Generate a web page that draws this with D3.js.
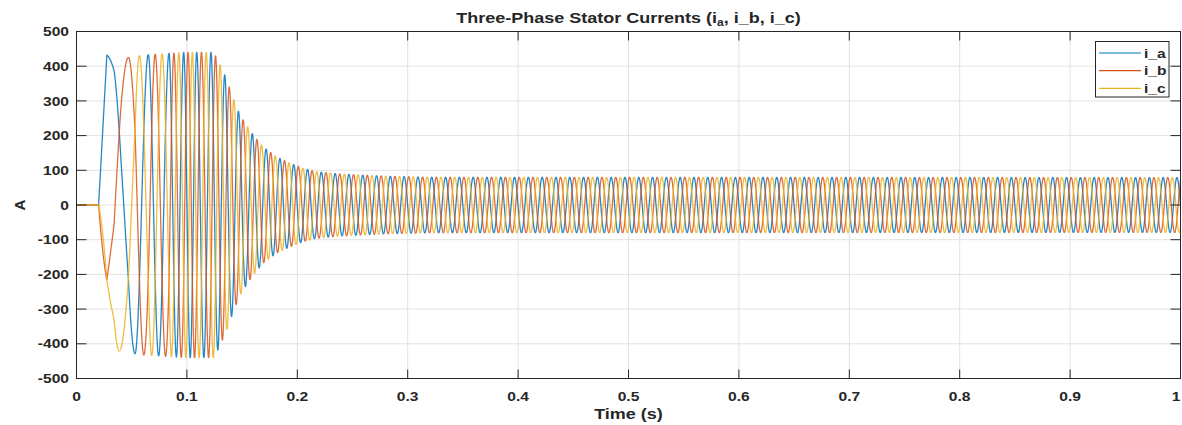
<!DOCTYPE html>
<html><head><meta charset="utf-8">
<script src="https://cdn.jsdelivr.net/npm/d3@7"></script>
<style>
body{margin:0;background:#fff}
svg{display:block}
text{font-family:"Liberation Sans",Arial,Helvetica,sans-serif;font-weight:bold;fill:#262626}
</style>
</head><body>
<svg id="chart" width="1182" height="425"></svg>
<script>
// ---------------- data ----------------
const titleMain = "Three-Phase Stator Currents (i";
const titleSub = "a";
const titleRest = ", i_b, i_c)";
const xLabel = "Time (s)";
const yLabel = "A";
const xTicks = [0, 0.1, 0.2, 0.3, 0.4, 0.5, 0.6, 0.7, 0.8, 0.9, 1];
const xTickLabels = ["0", "0.1", "0.2", "0.3", "0.4", "0.5", "0.6", "0.7", "0.8", "0.9", "1"];
const yTicks = [-500, -400, -300, -200, -100, 0, 100, 200, 300, 400, 500];
const yTickLabels = ["-500", "-400", "-300", "-200", "-100", "0", "100", "200", "300", "400", "500"];
const seriesNames = ["i_a", "i_b", "i_c"];
const seriesPhaseDeg = [0, -120, -240];
// envelope (peak current, A) read at times (s)
const envTimes = [0, 0.020, 0.0275, 0.034, 0.060, 0.100, 0.124, 0.128, 0.135, 0.142, 0.148, 0.154, 0.160, 0.169, 0.181, 0.193, 0.205, 0.217, 0.240, 0.280, 0.320, 1.0];
const envAmps  = [0, 0, 432, 418, 432, 440, 440, 418, 370, 308, 260, 230, 202, 168, 139, 121, 106, 96, 89, 83, 80, 79];
// electrical angle of i_a read from successive peaks / crossings (s, deg)
const phaseTimes = [0.020, 0.0275, 0.034, 0.040, 0.047, 0.053, 0.057, 0.061, 0.065, 0.0838, 0.0971, 0.1089, 0.1218];
const phaseDegs  = [-15, 0, 22, 70, 120, 180, 240, 300, 360, 720, 1080, 1440, 1800];
const steadyFreqHz = 80;
const sampleStep = 0.0001;

// ---------------- layout ----------------
const L = 76.5, R = 1180.5, T = 31.5, B = 378.5;
const SX = 1.2; // horizontal stretch of the lettering
const colors = ["#0072BD", "#D95319", "#EDB120"];
const gridColor = "#e2e2e2", axisColor = "#262626";

const svg = d3.select("#chart");
const x = d3.scaleLinear().domain([0, 1]).range([L, R]);
const y = d3.scaleLinear().domain([-500, 500]).range([B, T]);

function interp(xs, ys, t) {
  if (t <= xs[0]) return ys[0];
  if (t >= xs[xs.length - 1]) return ys[ys.length - 1];
  const i = d3.bisectRight(xs, t) - 1;
  const f = (t - xs[i]) / (xs[i + 1] - xs[i]);
  return ys[i] + f * (ys[i + 1] - ys[i]);
}
function phaseAt(t) {
  const lastT = phaseTimes[phaseTimes.length - 1];
  if (t > lastT) return phaseDegs[phaseDegs.length - 1] + 360 * steadyFreqHz * (t - lastT);
  return interp(phaseTimes, phaseDegs, t);
}
const times = d3.range(0, 1 + sampleStep / 2, sampleStep);
const series = seriesNames.map((name, k) => times.map(t => {
  const a = interp(envTimes, envAmps, t);
  const th = (phaseAt(t) + seriesPhaseDeg[k]) * Math.PI / 180;
  return { t, v: a * Math.cos(th) };
}));

function stext(g, px, py, str, size, anchor) {
  return g.append("text")
    .attr("transform", `translate(${px},${py}) scale(${SX},1)`)
    .attr("text-anchor", anchor)
    .style("font-size", size + "px")
    .text(str);
}

// grid
const grid = svg.append("g");
xTicks.forEach(v => grid.append("line").attr("x1", x(v)).attr("x2", x(v)).attr("y1", T).attr("y2", B)
  .attr("stroke", gridColor).attr("stroke-width", 1));
yTicks.forEach(v => grid.append("line").attr("x1", L).attr("x2", R).attr("y1", y(v)).attr("y2", y(v))
  .attr("stroke", gridColor).attr("stroke-width", 1));

// data
svg.append("clipPath").attr("id", "clip").append("rect")
  .attr("x", L).attr("y", T).attr("width", R - L).attr("height", B - T);
const line = d3.line().x(d => x(d.t)).y(d => y(d.v));
const plot = svg.append("g").attr("clip-path", "url(#clip)");
series.forEach((s, k) => plot.append("path").datum(s).attr("d", line)
  .attr("fill", "none").attr("stroke", colors[k]).attr("stroke-width", 1.3)
  .attr("stroke-opacity", 0.85).attr("stroke-linejoin", "round"));

// box & ticks
const ax = svg.append("g").attr("stroke", axisColor).attr("stroke-width", 1);
ax.append("rect").attr("x", L).attr("y", T).attr("width", R - L).attr("height", B - T).attr("fill", "none");
xTicks.forEach(v => {
  ax.append("line").attr("x1", x(v)).attr("x2", x(v)).attr("y1", B).attr("y2", B - 9);
  ax.append("line").attr("x1", x(v)).attr("x2", x(v)).attr("y1", T).attr("y2", T + 9);
});
yTicks.forEach(v => {
  ax.append("line").attr("x1", L).attr("x2", L + 10).attr("y1", y(v)).attr("y2", y(v));
  ax.append("line").attr("x1", R).attr("x2", R - 10).attr("y1", y(v)).attr("y2", y(v));
});

// tick labels (the last one is kept fully inside the page)
const labels = svg.append("g");
xTicks.forEach((v, i) => {
  const last = i === xTicks.length - 1;
  stext(labels, last ? Math.min(x(v), 1181) : x(v), B + 22, xTickLabels[i], 13, last ? "end" : "middle");
});
yTicks.forEach((v, i) => stext(labels, L - 7.5, y(v) + 4.6, yTickLabels[i], 13, "end"));

// axis labels
stext(svg, (L + R) / 2, 419, xLabel, 15, "middle");
svg.append("text").attr("transform", `translate(25,${(T + B) / 2}) rotate(-90)`)
  .attr("text-anchor", "middle").style("font-size", "15px").text(yLabel);

// title
const tt = svg.append("text").attr("transform", `translate(${(L + R) / 2},23) scale(${SX},1)`)
  .attr("text-anchor", "middle").style("font-size", "15px");
tt.append("tspan").text(titleMain);
tt.append("tspan").style("font-size", "10px").attr("dy", 3).text(titleSub);
tt.append("tspan").attr("dy", -3).text(titleRest);

// legend
const lg = svg.append("g");
lg.append("rect").attr("x", 1095.5).attr("y", 41.5).attr("width", 73.5).attr("height", 55.5)
  .attr("fill", "#fff").attr("stroke", axisColor).attr("stroke-width", 1);
seriesNames.forEach((n, k) => {
  const ry = 53 + k * 17.7;
  lg.append("line").attr("x1", 1099).attr("x2", 1141).attr("y1", ry).attr("y2", ry)
    .attr("stroke", colors[k]).attr("stroke-width", 1.2);
  stext(lg, 1144, ry + 4.5, n, 13, "start");
});
</script>
</body></html>
